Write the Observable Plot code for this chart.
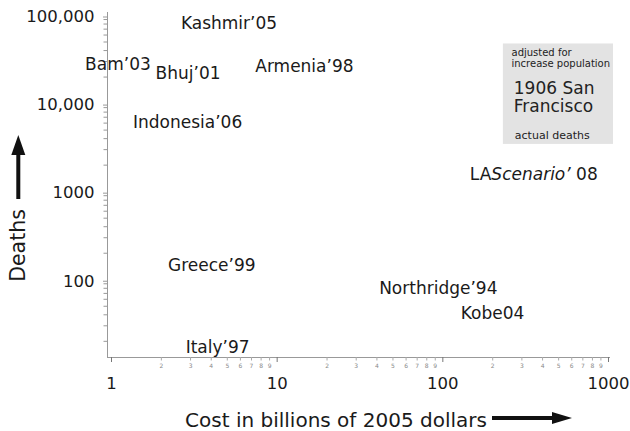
<!DOCTYPE html>
<html><head><meta charset="utf-8">
<script src="https://cdn.jsdelivr.net/npm/d3@7"></script>
<script src="https://cdn.jsdelivr.net/npm/@observablehq/plot@0.6"></script>
<style>body{margin:0;background:#fff}</style>
</head><body><div id="chart"></div>
<script>
// Earthquakes: cost (billions of 2005 dollars) vs deaths
const quakes = ["Kashmir’05","Bam’03","Bhuj’01","Armenia’98","Indonesia’06","LAScenario’ 08","Greece’99","Italy’97","Northridge’94","Kobe04"];
const costs  = [5.12, 1.094, 2.90, 14.6, 2.88, 354, 4.03, 4.37, 93.9, 199.5];
const deaths = [80000, 27800, 22000, 26200, 6100, 1570, 144, 16.9, 79.6, 41.5];

// 1906 San Francisco range box (actual deaths -> adjusted for population)
const sfCost = [232, 1072];
const sfDeaths = [3440, 47500];
const sfNotes = ["adjusted for","increase population","1906 San","Francisco","actual deaths"];
const sfNoteCost = [259.7, 259.7, 268, 268, 272];
const sfNoteDeaths = [37900, 28450, 14990, 9290, 4290];

// ticks
const yTicks = [100, 1000, 10000, 100000];
const yTickLabels = ["100","1000","10,000","100,000"];
const xTicks = [1, 10, 100, 1000];
const xTickLabels = ["1","10","100","1000"];
const minorDigits = [2,3,4,5,6,7,8,9];
const xDecades = [1, 10, 100];
const yDecades = [10, 100, 1000, 10000];
const yDomain = [13.1, 100000];
const xDomain = [1, 1000];

const xTitle = "Cost in billions of 2005 dollars";
const yTitle = "Deaths";

const xMinor = xDecades.flatMap(d => minorDigits.map(m => ({v: m * d, m})));
const yMinor = yDecades.flatMap(d => minorDigits.map(m => m * d)).filter(v => v >= yDomain[0]);

const points = quakes.map((q, i) => ({q, c: costs[i], d: deaths[i]}));
const notes = sfNotes.map((t, i) => ({t, c: sfNoteCost[i], d: sfNoteDeaths[i], i}));
const box = [{x1: sfCost[0], x2: sfCost[1], y1: sfDeaths[0], y2: sfDeaths[1]}];

const ink = "#1a1a1a";
const grey = "#999";

const plot = Plot.plot({
  width: 630,
  height: 431,
  marginLeft: 107,
  marginRight: 21,
  marginTop: 12,
  marginBottom: 74,
  style: {fontFamily: "DejaVu Sans", background: "#fff"},
  x: {type: "log", domain: xDomain, range: [111, 608]},
  y: {type: "log", domain: yDomain, range: [357, 15]},
  marks: [
    Plot.rect(box, {x1: "x1", x2: "x2", y1: "y1", y2: "y2", fill: "#e3e3e3"}),
    Plot.frame({anchor: "left", stroke: grey}),
    Plot.frame({anchor: "bottom", stroke: grey}),
    Plot.axisY(yMinor, {tickSize: 3.5, tickFormat: () => "", stroke: "#999", label: null}),
    Plot.axisY(yTicks, {tickSize: 4, tickPadding: 9, dy: 1.5, fontSize: 16.5, stroke: grey, fill: ink,
      tickFormat: d => yTickLabels[yTicks.indexOf(d)], label: null}),
    Plot.axisX(xMinor.map(d => d.v), {tickSize: 3.5, tickFormat: () => "", stroke: "#aaa", label: null}),
    Plot.text(xMinor, {x: "v", text: "m", frameAnchor: "bottom", lineAnchor: "middle", dy: 9, fontSize: 6, fill: "#888"}),
    Plot.axisX(xTicks, {tickSize: 5, tickPadding: 14.3, fontSize: 16.5, stroke: "#777", fill: ink,
      tickFormat: d => xTickLabels[xTicks.indexOf(d)], label: null}),
    Plot.text(points, {x: "c", y: "d", text: "q", fontSize: 17, fill: ink}),
    Plot.text(notes.filter(n => n.i < 2), {x: "c", y: "d", text: "t", textAnchor: "start", fontSize: 10, fill: "#222"}),
    Plot.text(notes.filter(n => n.i >= 2 && n.i < 4), {x: "c", y: "d", text: "t", textAnchor: "start", fontSize: 17, fill: "#222"}),
    Plot.text(notes.filter(n => n.i === 4), {x: "c", y: "d", text: "t", textAnchor: "start", fontSize: 11, fill: "#222"}),
    Plot.text([xTitle], {frameAnchor: "bottom", textAnchor: "middle", lineAnchor: "middle", text: d => d, dx: -22.5, dy: 62.6, fontSize: 20, fill: ink}),
    Plot.text([yTitle], {frameAnchor: "left", textAnchor: "middle", lineAnchor: "middle", text: d => d, rotate: -90, dx: -88.6, dy: 60.5, fontSize: 20.5, fill: ink})
  ]
});

// mixed italic in LA Scenario label
for (const t of plot.querySelectorAll("text")) {
  if (t.textContent === "LAScenario’ 08") {
    t.textContent = "";
    t.setAttribute("style", "white-space:pre");
    for (const [s, it] of [["LA", false], ["Scenario’", true], [" 08", false]]) {
      const ts = document.createElementNS("http://www.w3.org/2000/svg", "tspan");
      ts.textContent = s;
      if (it) ts.setAttribute("font-style", "italic");
      t.appendChild(ts);
    }
  }
}

// axis title arrows
const svg = d3.select(plot);
const arr = svg.append("g").attr("fill", "#111");
arr.append("rect").attr("x", 492).attr("y", 416).attr("width", 62).attr("height", 4);
arr.append("path").attr("d", "M552,412L572,418L552,424Z");
arr.append("rect").attr("x", 16.3).attr("y", 153).attr("width", 4).attr("height", 46);
arr.append("path").attr("d", "M11.3,155L18.3,135L25.3,155Z");

document.getElementById("chart").appendChild(plot);
</script>
</body></html>
